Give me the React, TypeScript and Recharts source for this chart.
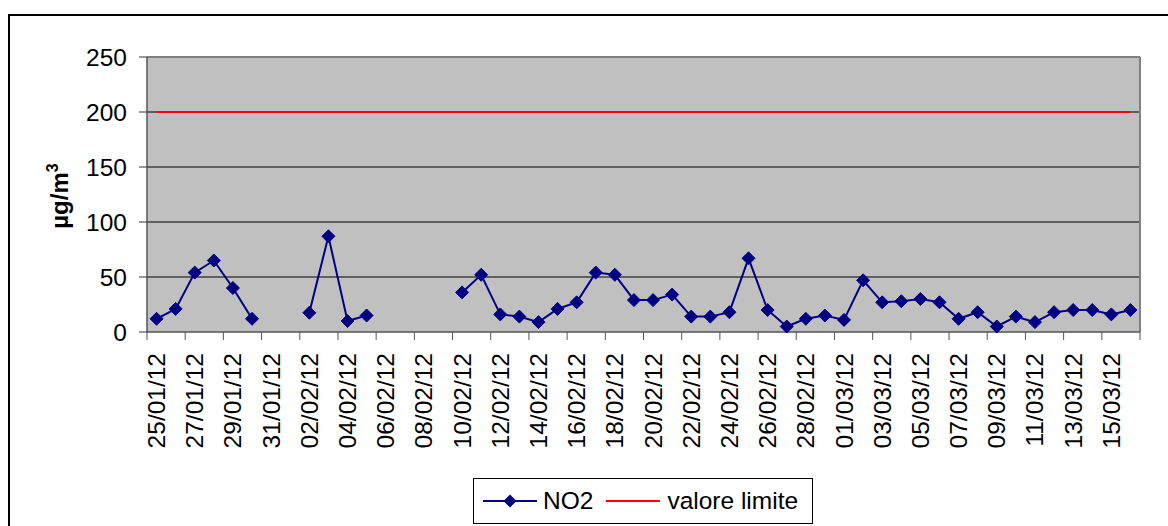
import React from "react";
import {
  LineChart,
  Line,
  XAxis,
  YAxis,
  CartesianGrid,
  Legend,
  Label,
} from "recharts";

const dates = [
  "25/01/12", "26/01/12", "27/01/12", "28/01/12", "29/01/12", "30/01/12", "31/01/12",
  "01/02/12", "02/02/12", "03/02/12", "04/02/12", "05/02/12", "06/02/12", "07/02/12",
  "08/02/12", "09/02/12", "10/02/12", "11/02/12", "12/02/12", "13/02/12", "14/02/12",
  "15/02/12", "16/02/12", "17/02/12", "18/02/12", "19/02/12", "20/02/12", "21/02/12",
  "22/02/12", "23/02/12", "24/02/12", "25/02/12", "26/02/12", "27/02/12", "28/02/12",
  "29/02/12", "01/03/12", "02/03/12", "03/03/12", "04/03/12", "05/03/12", "06/03/12",
  "07/03/12", "08/03/12", "09/03/12", "10/03/12", "11/03/12", "12/03/12", "13/03/12",
  "14/03/12", "15/03/12", "16/03/12",
];

const no2 = [
  12, 21, 54, 65, 40, 12, null,
  null, 17.5, 87, 10, 15, null, null,
  null, null, 36, 52, 16, 14, 9,
  21, 27, 54, 52, 29, 29, 34,
  14, 14, 18, 67, 20, 5, 12,
  15, 11, 47, 27, 28, 30, 27,
  12, 18, 5, 14, 9, 18, 20,
  20, 16, 20,
];

const valoreLimite = 200;
const yTicks = [0, 50, 100, 150, 200, 250];
const gridValues = [50, 100, 150, 200];

const data = dates.map((d, i) => ({ date: d, no2: no2[i], limite: valoreLimite }));

const FONT = "'Liberation Sans', Arial, sans-serif";
const W = 1168;
const H = 526;
const PLOT_LEFT = 147;
const PLOT_RIGHT = 1140;
const PLOT_TOP = 57;
const PLOT_BOTTOM = 332;
const band = (PLOT_RIGHT - PLOT_LEFT) / dates.length;

const Diamond = (props: any) => {
  const { cx, cy, value } = props;
  if (value == null || cx == null || cy == null) return null;
  const r = 6.5;
  return (
    <polygon
      points={`${cx},${cy - r} ${cx + r},${cy} ${cx},${cy + r} ${cx - r},${cy}`}
      fill="#000080"
      stroke="#000080"
    />
  );
};

const XTick = (props: any) => {
  const { x, y, payload } = props;
  const left = x - band / 2;
  const isLast = payload.value === dates[dates.length - 2];
  return (
    <g>
      <line x1={left} y1={y} x2={left} y2={y + 8} stroke="#555" />
      {isLast && (
        <line x1={x + 1.5 * band} y1={y} x2={x + 1.5 * band} y2={y + 8} stroke="#555" />
      )}
      <text
        x={x}
        y={y + 21}
        transform={`rotate(-90, ${x}, ${y + 21})`}
        textAnchor="end"
        dominantBaseline="central"
        fontSize={24.5}
        fontFamily={FONT}
        fill="#000"
      >
        {payload.value}
      </text>
    </g>
  );
};

const LegendBox = () => (
  <div
    style={{
      boxSizing: "border-box",
      width: 340,
      height: 46,
      border: "1px solid #000",
      background: "#fff",
      display: "flex",
      alignItems: "center",
      paddingLeft: 9,
      fontFamily: FONT,
      fontSize: 24.5,
      color: "#000",
    }}
  >
    <svg width={54} height={20}>
      <line x1={0} y1={10} x2={54} y2={10} stroke="#000080" strokeWidth={2} />
      <polygon points="27,3.5 33.5,10 27,16.5 20.5,10" fill="#000080" />
    </svg>
    <span style={{ marginLeft: 6 }}>NO2</span>
    <svg width={54} height={20} style={{ marginLeft: 13 }}>
      <line x1={0} y1={10} x2={54} y2={10} stroke="#ff0000" strokeWidth={2} />
    </svg>
    <span style={{ marginLeft: 7 }}>valore limite</span>
  </div>
);

export default function App() {
  return (
    <div style={{ position: "relative", width: W, height: H, overflow: "hidden", background: "#fff", fontFamily: FONT }}>
      <style>{"body{margin:0;overflow:hidden}"}</style>
      <div
        style={{
          position: "absolute",
          left: 8,
          top: 14,
          width: 1200,
          height: 600,
          border: "2px solid #000",
          pointerEvents: "none",
        }}
      />
      <LineChart
        width={W}
        height={H}
        data={data}
        margin={{ top: PLOT_TOP, right: W - PLOT_RIGHT, left: 0, bottom: 0 }}
      >
        {/* grey plot area with black gridlines */}
        <CartesianGrid
          vertical={false}
          stroke="#000"
          fill="#c0c0c0"
          horizontalValues={gridValues}
        />
        {/* grey frame top and right */}
        <CartesianGrid
          stroke="#808080"
          strokeWidth={2}
          fill="none"
          horizontalValues={[250]}
          verticalCoordinatesGenerator={({ offset }: any) => [offset.left + offset.width]}
        />
        <XAxis
          dataKey="date"
          interval={1}
          height={H - PLOT_BOTTOM}
          padding={{ left: band / 2, right: band / 2 }}
          tickSize={0}
          tickMargin={0}
          tick={<XTick />}
          axisLine={{ stroke: "#555", strokeWidth: 1.5 }}
        />
        <YAxis
          width={PLOT_LEFT}
          domain={[0, 250]}
          ticks={yTicks}
          interval={0}
          tickSize={8}
          tickMargin={12}
          tickLine={{ stroke: "#333" }}
          axisLine={{ stroke: "#555", strokeWidth: 1.5 }}
          tick={{ fontSize: 24.5, fontFamily: FONT, fill: "#000" }}
        >
          <Label
            content={() => (
              <text
                x={68}
                y={196}
                transform="rotate(-90, 68, 196)"
                textAnchor="middle"
                fontFamily={FONT}
                fontWeight="bold"
                fontSize={24}
                fill="#000"
              >
                µg/m
                <tspan dy={-10} fontSize={16}>3</tspan>
              </text>
            )}
          />
        </YAxis>
        <Line
          dataKey="limite"
          stroke="#ff0000"
          strokeWidth={2}
          dot={false}
          activeDot={false}
          isAnimationActive={false}
        />
        <Line
          dataKey="no2"
          stroke="#000080"
          strokeWidth={2}
          dot={<Diamond />}
          activeDot={false}
          connectNulls={false}
          isAnimationActive={false}
        />
        <Legend
          layout="horizontal"
          verticalAlign="middle"
          align="center"
          content={<LegendBox />}
          wrapperStyle={{ left: 473, top: 478, width: 340, height: 46 }}
        />
      </LineChart>
    </div>
  );
}
